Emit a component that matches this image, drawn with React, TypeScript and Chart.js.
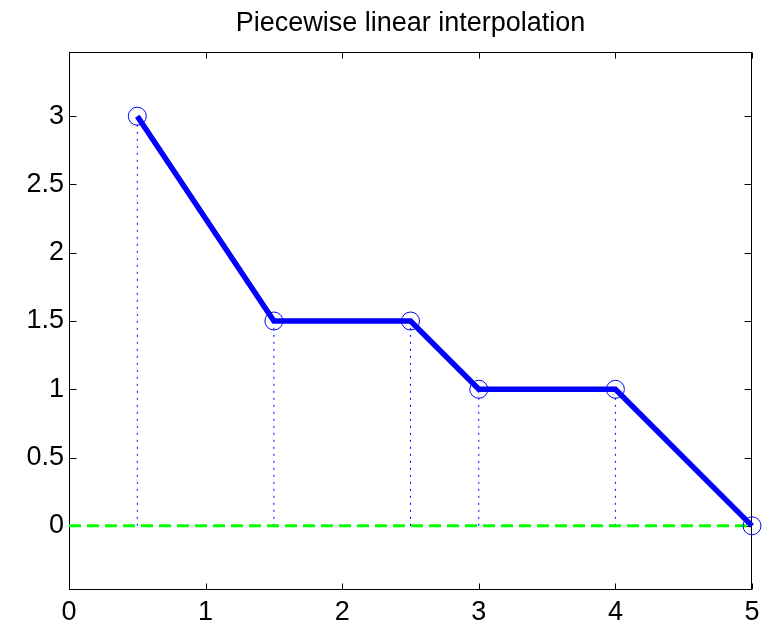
import React, { useEffect, useRef } from "react";
import { Chart, registerables } from "chart.js";

Chart.register(...registerables);

const TITLE = "Piecewise linear interpolation";
const X_VALUES = [0.5, 1.5, 2.5, 3, 4, 5];
const Y_VALUES = [3, 1.5, 1.5, 1, 1, 0];
const X_TICKS = [0, 1, 2, 3, 4, 5];
const Y_TICKS = [0, 0.5, 1, 1.5, 2, 2.5, 3];
const X_RANGE = [0, 5];
const Y_RANGE = [-0.47, 3.47];
const BASELINE_Y = 0;

const FONT_FAMILY = "'Liberation Sans', Arial, Helvetica, sans-serif";
const FONT_SIZE = 27;

const framePlugin = {
  id: "frame",
  beforeDatasetsDraw(chart: any) {
    const { ctx, chartArea: a, scales } = chart;
    ctx.save();
    ctx.strokeStyle = "#000";
    ctx.lineWidth = 1;
    const L = a.left + 0.5;
    const R = a.right - 0.5;
    const T = a.top + 0.5;
    const B = a.bottom - 0.5;
    ctx.strokeRect(L, T, R - L, B - T);
    ctx.beginPath();
    for (const v of X_TICKS) {
      const px = Math.round(scales.x.getPixelForValue(v)) + 0.5;
      ctx.moveTo(px, B);
      ctx.lineTo(px, B - 6);
      ctx.moveTo(px, T);
      ctx.lineTo(px, T + 6);
    }
    for (const v of Y_TICKS) {
      const py = Math.round(scales.y.getPixelForValue(v)) + 0.5;
      ctx.moveTo(L, py);
      ctx.lineTo(L + 7, py);
      ctx.moveTo(R, py);
      ctx.lineTo(R - 7, py);
    }
    ctx.stroke();
    ctx.restore();
  },
  afterDraw(chart: any) {
    const { ctx, chartArea: a } = chart;
    ctx.save();
    ctx.fillStyle = "#000";
    ctx.font = `${FONT_SIZE}px ${FONT_FAMILY}`;
    ctx.textAlign = "center";
    ctx.textBaseline = "alphabetic";
    ctx.fillText(TITLE, (a.left + a.right) / 2, 31);
    ctx.restore();
  },
};

export default function App() {
  const canvasRef = useRef<HTMLCanvasElement | null>(null);

  useEffect(() => {
    document.body.style.margin = "0";
    const canvas = canvasRef.current;
    if (!canvas) return;

    const points = X_VALUES.map((x, i) => ({ x, y: Y_VALUES[i] }));

    const stems = X_VALUES.map((x, i) => ({
      type: "line" as const,
      data: [
        { x, y: BASELINE_Y },
        { x, y: Y_VALUES[i] },
      ],
      borderColor: "#0000ff",
      borderWidth: 1,
      borderDash: [2, 5],
      pointRadius: 0,
      fill: false,
      clip: false as any,
      order: 3,
    }));

    const chart = new Chart(canvas, {
      type: "line",
      data: {
        datasets: [
          {
            data: points,
            showLine: false,
            pointRadius: 9,
            pointBorderWidth: 1,
            pointBorderColor: "#0000ff",
            pointBackgroundColor: "rgba(0,0,0,0)",
            clip: false as any,
            order: 0,
          },
          {
            data: points,
            borderColor: "#0000ff",
            borderWidth: 5.5,
            pointRadius: 0,
            borderJoinStyle: "miter",
            fill: false,
            clip: false as any,
            order: 1,
          },
          {
            data: [
              { x: X_RANGE[0], y: BASELINE_Y },
              { x: X_RANGE[1], y: BASELINE_Y },
            ],
            borderColor: "#00ff00",
            borderWidth: 3,
            borderDash: [12, 6],
            pointRadius: 0,
            fill: false,
            clip: false as any,
            order: 2,
          },
          ...stems,
        ] as any,
      },
      options: {
        responsive: false,
        animation: false,
        devicePixelRatio: 1,
        layout: { padding: { top: 52, right: 14, left: 0, bottom: 0 } },
        plugins: {
          legend: { display: false },
          title: { display: false },
          tooltip: { enabled: false },
        },
        scales: {
          x: {
            type: "linear",
            min: X_RANGE[0],
            max: X_RANGE[1],
            grid: { display: false, drawTicks: false },
            border: { display: false },
            afterBuildTicks: (scale: any) => {
              scale.ticks = X_TICKS.map((v) => ({ value: v }));
            },
            afterFit: (scale: any) => {
              scale.height = 33;
            },
            ticks: {
              padding: 6,
              color: "#000",
              font: { family: FONT_FAMILY, size: FONT_SIZE },
              callback: (v: any) => String(v),
              maxRotation: 0,
              autoSkip: false,
            },
          },
          y: {
            type: "linear",
            min: Y_RANGE[0],
            max: Y_RANGE[1],
            grid: { display: false, drawTicks: false },
            border: { display: false },
            afterBuildTicks: (scale: any) => {
              scale.ticks = Y_TICKS.map((v) => ({ value: v }));
            },
            afterFit: (scale: any) => {
              scale.width = 69;
            },
            ticks: {
              padding: 5,
              color: "#000",
              font: { family: FONT_FAMILY, size: FONT_SIZE },
              callback: (v: any) => String(v),
              autoSkip: false,
            },
          },
        },
      } as any,
      plugins: [framePlugin],
    });

    return () => chart.destroy();
  }, []);

  return (
    <div style={{ position: "absolute", left: 0, top: 0, width: 766, height: 623, background: "#fff" }}>
      <canvas ref={canvasRef} width={766} height={623} style={{ display: "block" }} />
    </div>
  );
}
